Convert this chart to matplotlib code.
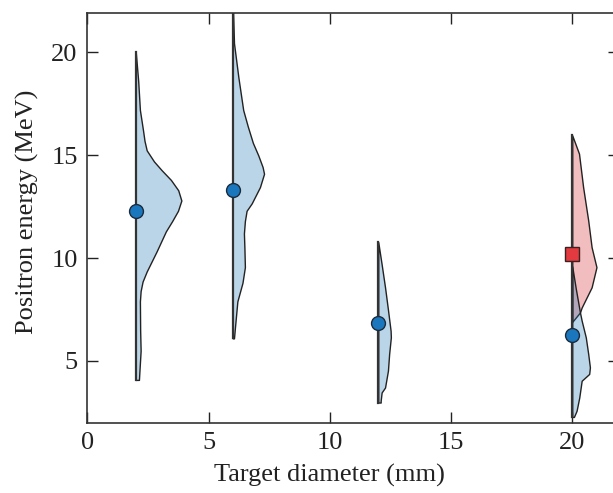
import matplotlib.pyplot as plt

plt.rcParams['font.family'] = ['Liberation Serif', 'DejaVu Serif']
plt.rcParams['font.size'] = 19

# target diameters (mm) and mean positron energies (MeV)
diameters = [2, 6, 12, 20]
mean_energy = [12.27, 13.3, 6.83, 6.28]
red_diameter = 20
red_mean = 10.2

# energy spectra as half-violin profiles: energy (MeV) vs. relative width
prof_E = [
    [4.08, 4.5, 5.5, 6.5, 7.9, 8.4, 8.86, 9.35, 10.33, 11.3, 11.8, 12.3, 12.8, 13.3, 13.8, 14.27, 14.7, 15.24, 15.7, 16.2, 17.2, 18.6, 20.0],
    [6.1, 6.63, 7.9, 8.8, 9.56, 10.5, 11.2, 11.8, 12.3, 12.66, 13.45, 14.1, 14.43, 15.0, 15.6, 16.4, 17.2, 18.8, 20.45, 22.5],
    [2.98, 3.07, 3.47, 3.71, 4.53, 5.35, 6.15, 6.47, 7.5, 8.58, 9.7, 10.78],
    [2.28, 2.58, 3.22, 4.04, 4.37, 4.69, 5.34, 6.15, 6.96, 7.36, 8.5, 9.6],
]
prof_W = [
    [0.13, 0.15, 0.2, 0.18, 0.17, 0.2, 0.28, 0.45, 0.86, 1.24, 1.5, 1.74, 1.88, 1.75, 1.45, 1.07, 0.75, 0.45, 0.36, 0.3, 0.17, 0.1, 0.0],
    [0.05, 0.09, 0.19, 0.4, 0.5, 0.48, 0.46, 0.5, 0.57, 0.78, 1.12, 1.29, 1.23, 1.05, 0.83, 0.62, 0.43, 0.23, 0.05, 0.0],
    [0.1, 0.1, 0.14, 0.28, 0.4, 0.45, 0.52, 0.51, 0.4, 0.28, 0.14, 0.0],
    [0.07, 0.18, 0.29, 0.39, 0.7, 0.73, 0.66, 0.56, 0.39, 0.32, 0.15, 0.0],
]
red_E = [6.9, 7.36, 7.6, 8.58, 9.56, 10.53, 11.83, 13.45, 15.08, 15.97]
red_W = [0.0, 0.32, 0.39, 0.8, 1.0, 0.8, 0.66, 0.45, 0.28, 0.0]

blue_fill = (0.122, 0.467, 0.706, 0.3)
red_fill = (0.84, 0.153, 0.157, 0.3)

fig = plt.figure(figsize=(6.13, 4.93), dpi=100)
ax = fig.add_axes([0.1424, 0.1426, 0.8674, 0.8304])

# red spectrum goes underneath the blue one at 20 mm
xr = [red_diameter + w for w in red_W]
ax.fill_betweenx(red_E, red_diameter, xr, facecolor=red_fill, edgecolor='#222222', lw=1.0, zorder=2)

for d, E, W in zip(diameters, prof_E, prof_W):
    xs = [d + w for w in W]
    ax.fill_betweenx(E, d, xs, facecolor=blue_fill, edgecolor='#222222', lw=1.0, zorder=3)

# center lines
for d, E in zip(diameters, prof_E):
    lo, hi = min(E), max(E)
    if d == red_diameter:
        lo, hi = min(lo, min(red_E)), max(hi, max(red_E))
    ax.plot([d, d], [lo, hi], color='#333333', lw=1.6, zorder=4)

ax.plot(diameters, mean_energy, 'o', ms=10, mfc='#1a76bd', mec='#1c2b3c', mew=1.0, ls='none', zorder=6)
ax.plot([red_diameter], [red_mean], 's', ms=10, mfc='#e23a3f', mec='#3a2222', mew=1.0, zorder=6)

ax.set_xlim(0, 21.93)
ax.set_ylim(2, 21.9)
ax.set_xticks([0, 5, 10, 15, 20])
ax.set_yticks([5, 10, 15, 20])
ax.tick_params(direction='in', length=8, width=1.0, top=True, right=True, pad=7, colors='#222222')
for s in ax.spines.values():
    s.set_color('#333333')
    s.set_linewidth(1.2)

ax.set_xlabel('Target diameter (mm)', color='#222222')
ax.set_ylabel('Positron energy (MeV)', color='#222222')
ax.xaxis.set_label_coords(0.456, -0.1)
ax.yaxis.set_label_coords(-0.09, 0.515)

fig.savefig('out.png', dpi=100)
